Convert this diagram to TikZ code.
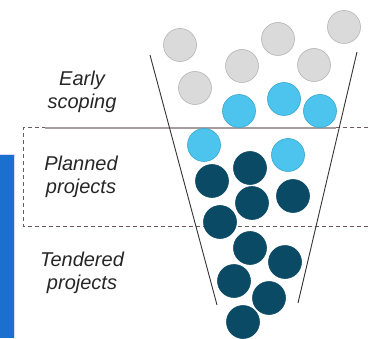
\documentclass[tikz,border=0pt]{standalone}
\usepackage{fontspec}
\setmainfont{Liberation Sans}
\begin{document}
\begin{tikzpicture}[x=1pt,y=-1pt,
  ball/.style={circle,minimum size=33pt,inner sep=0pt,line width=0.6pt},
  grayball/.style={ball,fill=ballgray,draw=ballgrayline},
  lightball/.style={ball,fill=balllight,draw=balllightline},
  darkball/.style={ball,fill=balldark,draw=balldark},
  lbl/.style={font=\fontsize{20}{24}\selectfont\itshape,align=center,text=black!85},
  funnel/.style={draw=black!80,line width=0.9pt},
  sep/.style={draw=sepcol,line width=1pt,dash pattern=on 4pt off 3pt}]
\definecolor{ballgray}{HTML}{DADADA}
\definecolor{ballgrayline}{HTML}{B4B4B4}
\definecolor{balllight}{HTML}{4CC4EE}
\definecolor{balllightline}{HTML}{3AA6CC}
\definecolor{balldark}{HTML}{0B4A64}
\definecolor{sepcol}{HTML}{6E5A5A}
\definecolor{barblue}{HTML}{1B6FCF}
\useasboundingbox (0,0) rectangle (369,339);
% blue bar
\fill[barblue] (0,155) rectangle (14,338);
\draw[blue!15,line width=1pt] (0,155) -- (14.5,155) -- (14.5,338);
% dashed region
\coordinate (rtl) at (23,128);
\coordinate (rbl) at (23,226);
\coordinate (rtr) at (375,128);
\coordinate (rbr) at (375,226);
\draw[sep] (rtr) -- (rtl) -- (rbl) -- (rbr);
\coordinate (sa) at (45,128);
\coordinate (sb) at (336,128);
\draw[draw=sepcol!60,line width=1.2pt] (sa) -- (sb);
% circles
\foreach \n/\x/\y in {g1/180/45,g2/195/88,g3/242/66,g4/278/39,g5/314/65,g6/344/27}
  \node[grayball] (\n) at (\x,\y) {};
\foreach \n/\x/\y in {l1/239/111,l2/284/99,l3/320/111,l4/204/145,l5/288/155}
  \node[lightball] (\n) at (\x,\y) {};
\foreach \n/\x/\y in {d1/250/168,d2/212/181,d3/252/203,d4/293/196,d5/220/222,d6/250/248,d7/285/262,d8/234/281,d9/269/298,d10/243/322}
  \node[darkball] (\n) at (\x,\y) {};
% funnel
\coordinate (fl1) at (150,55);
\coordinate (fl2) at (217,305);
\coordinate (fr1) at (357,52);
\coordinate (fr2) at (298,303);
\draw[funnel] (fl1) -- (fl2);
\draw[funnel] (fr1) -- (fr2);
% labels
\node[lbl] (t1) at (82,92) {Early\\[-1pt]scoping};
\node[lbl] (t2) at (81,177) {Planned\\[-1pt]projects};
\node[lbl] (t3) at (82,273) {Tendered\\[-1pt]projects};
\end{tikzpicture}
\end{document}
